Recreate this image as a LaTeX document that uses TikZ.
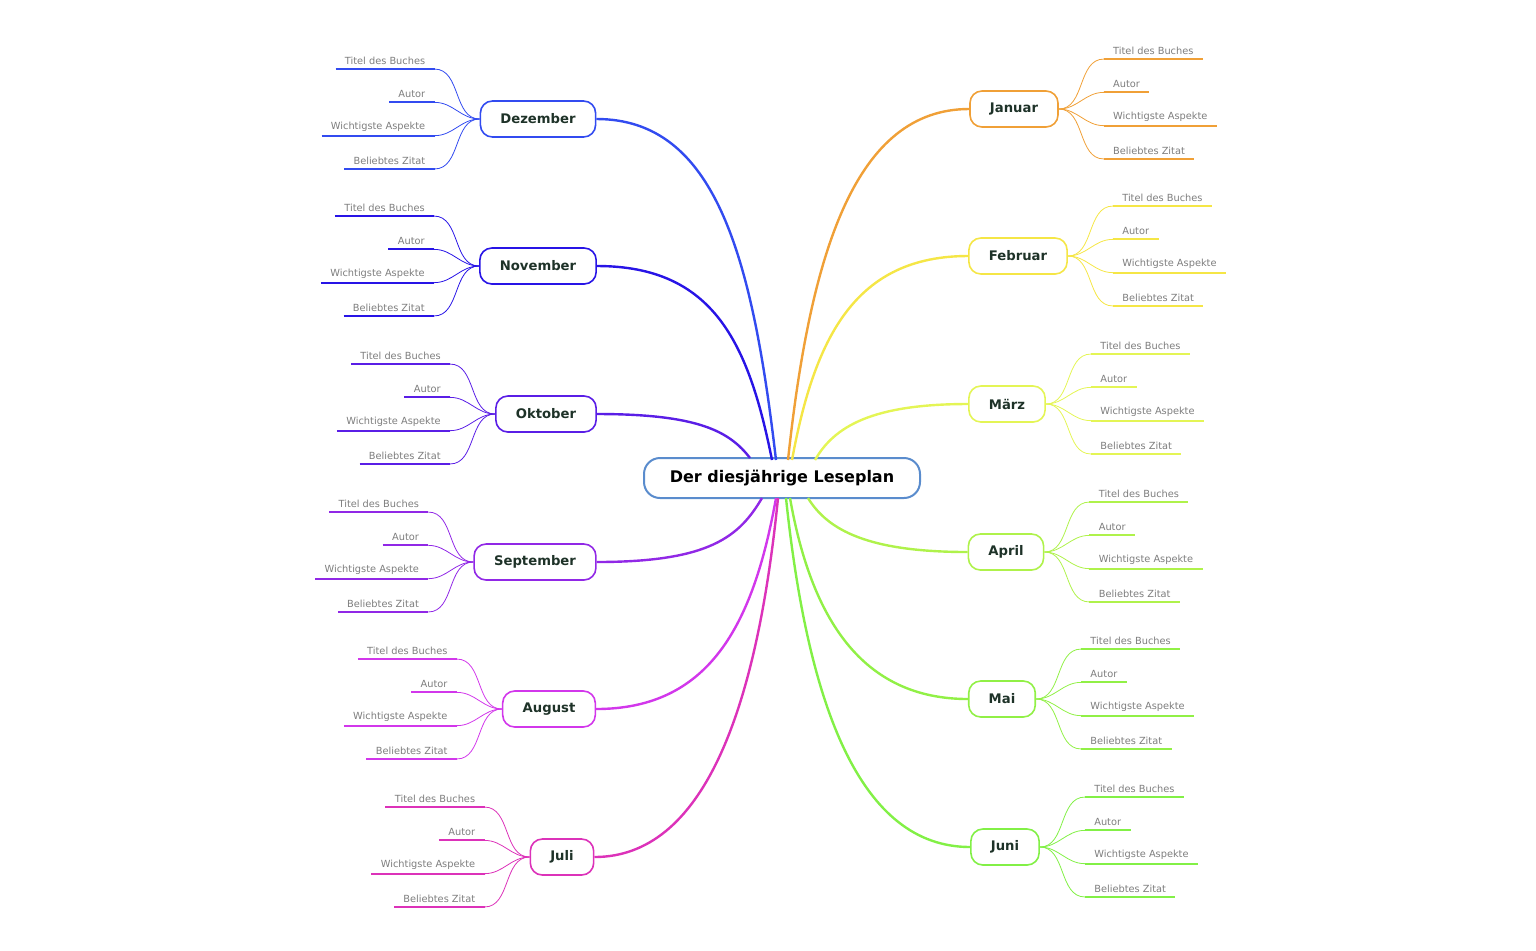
\documentclass[tikz,border=0pt]{standalone}
\usepackage{fontspec}
\setmainfont{DejaVu Sans}
\usetikzlibrary{positioning,calc}
\definecolor{centerblue}{RGB}{90,140,205}
\definecolor{leafgray}{RGB}{125,125,125}
\definecolor{labeldark}{RGB}{30,50,40}
\definecolor{cDez}{RGB}{50,75,240}
\definecolor{cNov}{RGB}{40,20,230}
\definecolor{cOkt}{RGB}{90,30,230}
\definecolor{cSep}{RGB}{145,40,230}
\definecolor{cAug}{RGB}{210,55,235}
\definecolor{cJul}{RGB}{220,50,185}
\definecolor{cJan}{RGB}{240,160,55}
\definecolor{cFeb}{RGB}{245,230,70}
\definecolor{cMar}{RGB}{228,245,85}
\definecolor{cApr}{RGB}{175,242,75}
\definecolor{cMai}{RGB}{145,240,70}
\definecolor{cJun}{RGB}{130,240,70}
\tikzset{
    % Main topic
    topic/.style={
        rectangle, draw=centerblue, line width=1pt, fill=white,
        rounded corners=8pt, minimum width=138pt, minimum height=20pt,
        font=\fontsize{8}{9}\selectfont\bfseries
    },
    % Month boxes
    month/.style={
        rectangle, line width=0.8pt, fill=white, text=labeldark,
        rounded corners=6pt, inner xsep=10pt, minimum height=18pt,
        font=\fontsize{6.6}{8}\selectfont\bfseries
    },
    % Leaf texts
    leaf/.style={
        inner xsep=4.5pt, inner ysep=2pt, text=leafgray,
        font=\fontsize{4.9}{5.9}\selectfont
    },
    branch/.style={line width=1.2pt},
    twig/.style={line width=0.4pt}
}
\begin{document}
\begin{tikzpicture}[x=0.5pt,y=-0.5pt]
\useasboundingbox (0,0) rectangle (1536,950);

% Central topic
\node[topic] (plan) at (782,478) {Der diesjährige Leseplan};

% Left side months
\foreach \nm/\lbl/\mx/\my/\cx/\cy/\col in {
    dez/Dezember/538/119/776/460/cDez,
    nov/November/538/266/772/460/cNov,
    okt/Oktober/546/414/750/458/cOkt,
    sep/September/535/562/762/498/cSep,
    aug/August/549/709/776/498/cAug,
    jul/Juli/562/857/778/498/cJul}{
  \node[month, draw=\col] (\nm) at (\mx,\my) {\lbl};
  \coordinate (\nm-c) at (\cx,\cy);
  \pgfmathsetmacro\ax{0.5*(\cx-\mx)}
  \pgfmathsetmacro\bx{0.1*(\mx-\cx)}
  \pgfmathsetmacro\by{0.6*(\my-\cy)}
  \draw[branch, \col] (\nm.east) .. controls +(\ax,0) and +(\bx,\by) .. (\nm-c);
  \foreach \t [count=\i] in {Titel des Buches,Autor,Wichtigste Aspekte,Beliebtes Zitat}{
    \pgfmathsetmacro\dy{(\i-2.5)*33.3}
    \node[leaf, anchor=south east] (\nm-\i) at ($(\nm.west)+(-45,\dy)$) {\t};
    \draw[\col, line width=1.1pt] (\nm-\i.south west) -- (\nm-\i.south east);
    \draw[twig, \col] (\nm.west) to[out=180, in=0] (\nm-\i.south east);
  }
}

% Right side months
\foreach \nm/\lbl/\mx/\my/\cx/\cy/\col in {
    jan/Januar/1014/109/788/460/cJan,
    feb/Februar/1018/256/792/460/cFeb,
    mar/März/1007/404/815/460/cMar,
    apr/April/1006/552/808/498/cApr,
    mai/Mai/1002/699/790/498/cMai,
    jun/Juni/1005/847/786/498/cJun}{
  \node[month, draw=\col] (\nm) at (\mx,\my) {\lbl};
  \coordinate (\nm-c) at (\cx,\cy);
  \pgfmathsetmacro\ax{0.5*(\cx-\mx)}
  \pgfmathsetmacro\bx{0.1*(\mx-\cx)}
  \pgfmathsetmacro\by{0.6*(\my-\cy)}
  \draw[branch, \col] (\nm.west) .. controls +(\ax,0) and +(\bx,\by) .. (\nm-c);
  \foreach \t [count=\i] in {Titel des Buches,Autor,Wichtigste Aspekte,Beliebtes Zitat}{
    \pgfmathsetmacro\dy{(\i-2.5)*33.3}
    \node[leaf, anchor=south west] (\nm-\i) at ($(\nm.east)+(45,\dy)$) {\t};
    \draw[\col, line width=1.1pt] (\nm-\i.south west) -- (\nm-\i.south east);
    \draw[twig, \col] (\nm.east) to[out=0, in=180] (\nm-\i.south west);
  }
}

\end{tikzpicture}
\end{document}
